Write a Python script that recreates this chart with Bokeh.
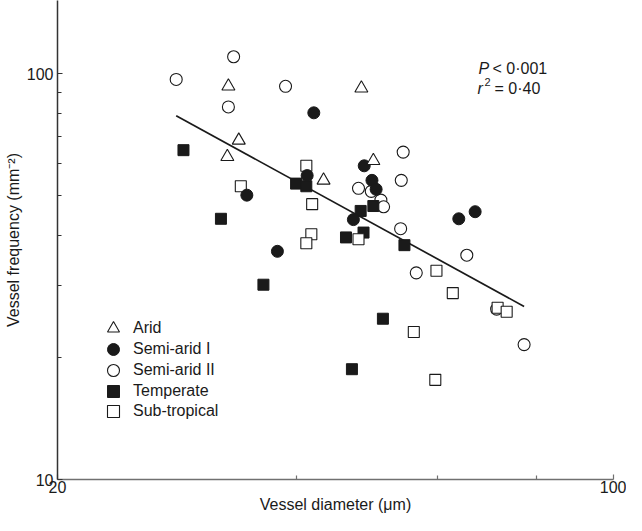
from bokeh.plotting import figure
from bokeh.models import (FixedTicker, Legend, LegendItem, Label, Range1d,
                          PrintfTickFormatter)
from bokeh.embed import file_html
from bokeh.resources import INLINE

# ---- data ----
arid_x = [32.8, 33.8, 32.7, 48.2, 43.2, 49.9]
arid_y = [93.1, 68.5, 62.4, 92.1, 54.6, 61.0]

semi1_x = [34.6, 37.8, 42.0, 41.2, 48.6, 49.7, 50.3, 47.1, 63.9, 67.0]
semi1_y = [50.2, 36.5, 80.1, 56.1, 59.3, 54.6, 51.9, 43.7, 43.9, 45.7]

semi2_x = [33.3, 28.2, 38.7, 32.8, 54.4, 54.1, 47.8, 49.6, 51.0, 51.4, 54.0, 56.5, 65.4, 71.3, 77.2]
semi2_y = [110.1, 96.8, 93.1, 82.8, 64.1, 54.6, 52.2, 51.3, 48.8, 47.0, 41.5, 32.3, 35.7, 26.3, 21.5]

temp_x = [28.8, 32.1, 36.3, 39.9, 41.1, 48.1, 49.9, 46.1, 48.5, 54.6, 51.3, 46.9]
temp_y = [64.8, 43.9, 30.2, 53.6, 52.8, 45.9, 47.2, 39.5, 40.6, 37.8, 24.9, 18.7]

sub_x = [34.0, 41.1, 41.8, 41.7, 41.1, 47.8, 59.9, 62.8, 56.1, 71.5, 73.4, 59.7]
sub_y = [52.8, 59.3, 47.7, 40.2, 38.2, 39.1, 32.7, 28.8, 23.1, 26.5, 25.9, 17.6]

fit_x = [28.2, 77.2]
fit_y = [78.8, 26.7]

x_major = [20, 100]
x_minor = [40, 60, 80]
y_major = [10, 100]
y_minor = [20, 30, 40, 50, 60, 70, 80, 90]

FONT = "Liberation Sans"
TXT = "#1a1a1a"
INK = "#1a1a1a"

FRAME_W = 556
FRAME_H = 479

p = figure(frame_width=FRAME_W, frame_height=FRAME_H,
           x_axis_type="log", y_axis_type="log",
           x_range=Range1d(20, 100), y_range=Range1d(10, 151.5),
           output_backend="svg", toolbar_location=None,
           min_border_left=57, min_border_right=13, min_border_top=0,
           min_border_bottom=0)
p.outline_line_color = None
p.xgrid.visible = False
p.ygrid.visible = False
p.background_fill_color = "white"
p.border_fill_color = "white"

# ---- regression line ----
p.line(fit_x, fit_y, line_color=INK, line_width=1.7)

# ---- points ----
r_semi2 = p.scatter(semi2_x, semi2_y, marker="circle", size=12,
                    fill_color="white", line_color=INK, line_width=1.1)
r_temp = p.scatter(temp_x, temp_y, marker="square", size=11,
                   fill_color=INK, line_color=INK, line_width=1)
r_sub = p.scatter(sub_x, sub_y, marker="square", size=11,
                  fill_color="white", line_color=INK, line_width=1.1)
r_semi1 = p.scatter(semi1_x, semi1_y, marker="circle", size=12,
                    fill_color=INK, line_color=INK, line_width=1)
r_arid = p.scatter(arid_x, arid_y, marker="triangle", size=13,
                   fill_color="white", line_color=INK, line_width=1.1)

# legend: one single-item legend per entry so the rows can sit 21px apart
legend_labels = ["Arid", "Semi-arid I", "Semi-arid II", "Temperate", "Sub-tropical"]
legend_rends = [r_arid, r_semi1, r_semi2, r_temp, r_sub]
row_bottoms = [136, 115, 94, 73, 53]   # screen px above the x axis
for lbl, rend, yb in zip(legend_labels, legend_rends, row_bottoms):
    lg = Legend(items=[LegendItem(label=lbl, renderers=[rend])], location=(41, yb))
    lg.glyph_width = 30
    lg.glyph_height = 30
    lg.padding = 0
    lg.margin = 0
    lg.label_standoff = 5
    lg.label_text_font = FONT
    lg.label_text_font_size = "16px"
    lg.label_text_color = TXT
    lg.border_line_color = None
    lg.background_fill_alpha = 0
    p.add_layout(lg, "center")

# ---- axes ----
for ax, major, minor in ((p.xaxis[0], x_major, x_minor), (p.yaxis[0], y_major, y_minor)):
    ax.ticker = FixedTicker(ticks=major, minor_ticks=minor)
    ax.formatter = PrintfTickFormatter(format="%d")
    ax.major_tick_in = 5
    ax.major_tick_out = 0
    ax.minor_tick_in = 4
    ax.minor_tick_out = 0
    ax.axis_line_width = 1.5
    ax.major_tick_line_width = 1.2
    ax.minor_tick_line_width = 1.2
    ax.major_label_text_font = FONT
    ax.major_label_text_font_size = "16px"
    ax.major_label_text_color = TXT
    ax.axis_label_text_font = FONT
    ax.axis_label_text_font_size = "16px"
    ax.axis_label_text_font_style = "normal"
    ax.axis_label_text_color = TXT

p.xaxis.axis_line_color = "#707070"
p.xaxis.major_tick_line_color = "#707070"
p.xaxis.minor_tick_line_color = "#707070"
p.yaxis.axis_line_color = "#333333"
p.yaxis.major_tick_line_color = "#333333"
p.yaxis.minor_tick_line_color = "#333333"

p.xaxis.axis_label = "Vessel diameter (\u03bcm)"
p.yaxis.axis_label = "Vessel frequency (mm\u207b\u00b2)"
p.xaxis.major_label_standoff = 1
p.xaxis.axis_label_standoff = 0
p.yaxis.major_label_standoff = 4
p.yaxis.axis_label_standoff = 2

# ---- statistics text ----
def lab(x, y, text, size="16px", style="normal"):
    p.add_layout(Label(x=x, y=y, x_units="screen", y_units="screen", text=text,
                       text_font=FONT, text_font_size=size, text_font_style=style,
                       text_color=TXT, text_baseline="alphabetic", text_align="left"))

lab(421, FRAME_H - 68, "P", style="italic")
lab(435, FRAME_H - 68, "< 0\u00b7001")
lab(420, FRAME_H - 88, "r", style="italic")
lab(427, FRAME_H - 81, "2", size="11px")
lab(437, FRAME_H - 88, "= 0\u00b740")

open("out.html", "w").write(file_html(p, INLINE))
